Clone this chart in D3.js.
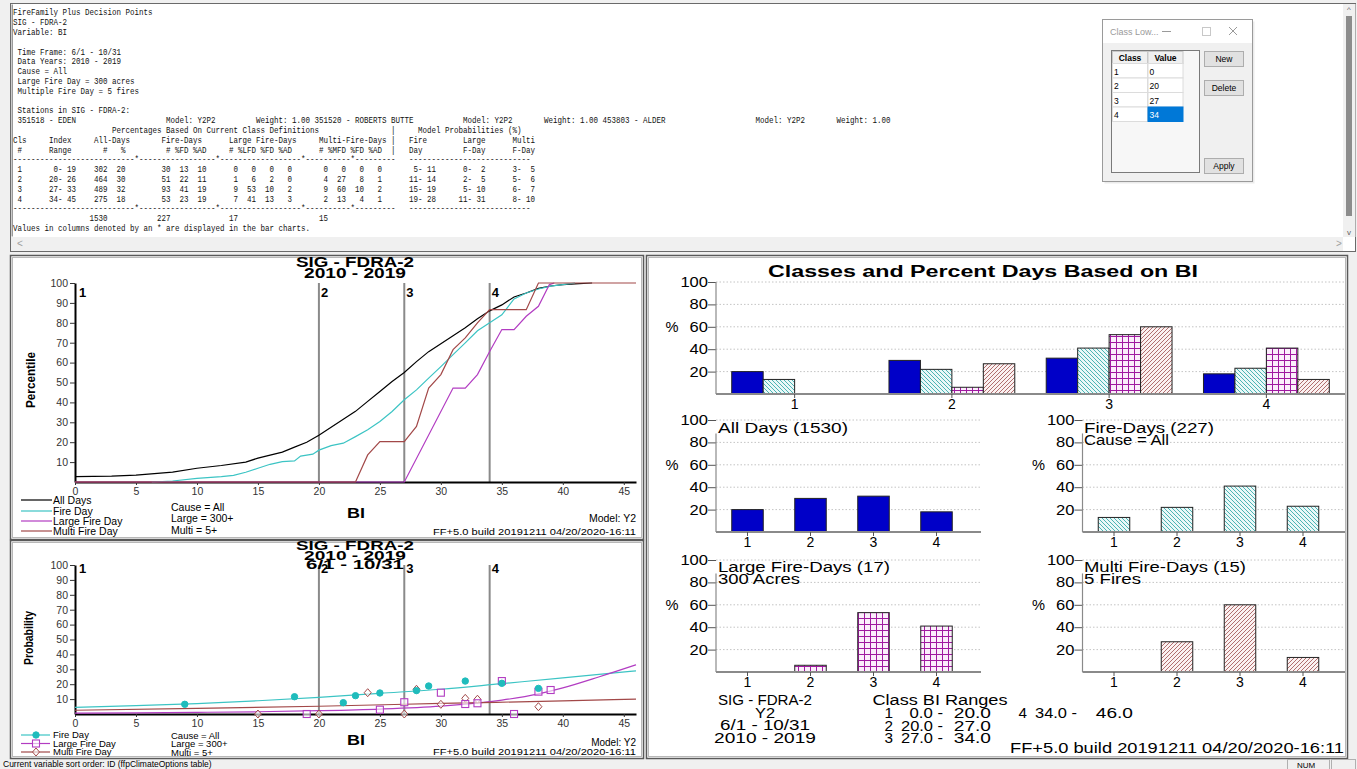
<!DOCTYPE html>
<html><head><meta charset="utf-8">
<script src="https://cdn.jsdelivr.net/npm/d3@7/dist/d3.min.js"></script>
<style>html,body{margin:0;padding:0;background:#f0f0f0;overflow:hidden}svg{display:block}</style>
</head><body>
<svg id="c" width="1357" height="769"></svg>
<script>
// ---------------- DATA ----------------
const classes = ["1","2","3","4"];
const classLow = [0,20,27,34];
const classHigh = [19,26,33,45];
const classBreaks = [20,27,34];
const rangeLo = ["0.0","20.0","27.0","34.0"];
const rangeHi = ["20.0","27.0","34.0","46.0"];
const allDaysN = [302,464,489,275];
const allDaysPct = [20,30,32,18];
const fireDaysN = [30,51,93,53];
const fireDaysPct = [13,22,41,23];
const fireDaysAD = [10,11,19,19];
const largeN = [0,1,9,7];
const largeFirePct = [0,6,53,41];
const largeFD = [0,2,10,13];
const largeAD = [0,0,2,3];
const multiN = [0,4,9,2];
const multiFirePct = [0,27,60,13];
const multiFD = [0,8,10,4];
const multiAD = [0,1,2,1];
const probFireRange = [[5,11],[11,14],[15,19],[19,28]];
const probLargeRange = [[0,2],[2,5],[5,10],[11,31]];
const probMultiRange = [[3,5],[5,6],[6,7],[8,10]];
const totals = [1530,227,17,15];
const dialogValues = [0,20,27,34];
const xTicksBI = [0,5,10,15,20,25,30,35,40,45];
const yTicks10 = [10,20,30,40,50,60,70,80,90,100];
const yTicksBar = [20,40,60,80,100];

// cumulative percentile curves [BI, percentile]
const pctAllDays = [[0,2.7],[3,3],[5,3.5],[8,5],[10,6.9],[12,8.3],[14,10],[15,12],[16,13.5],[17,15],[18,17.5],[19,20],[20,23.5],[21,27.5],[22,31.5],[23,35.5],[24,40.5],[25,45.5],[26,50.5],[27,55],[28,60.5],[29,65.5],[30,69.5],[31,73.5],[32,77.5],[33,82],[34,86],[35,89],[36,93],[37,95],[38,97.3],[39,98.5],[40,99.2],[41,99.6],[42.4,100]];
const pctFireDay = [[6.3,0],[8,0.5],[10,1.8],[12,2.7],[13,3.3],[14,4.9],[15,6.9],[16,8.9],[17,10.2],[18,10.6],[18.5,13],[19.5,14],[20,16],[21,18.3],[22,19.5],[23,22.8],[24,26.2],[25,30.4],[26,35.4],[27,41.3],[28,46.3],[29,52.2],[30,58],[31,64],[32,69.9],[33,76],[34,80],[35,84],[36,92],[37,95],[38,97],[39,98.4],[40,99.2],[41,100]];
const pctLargeDay = [[0,0],[27,0],[31,47.2],[32,47.2],[33,54],[34,65.6],[35,76.6],[36,76.6],[37,83.3],[38,88.3],[38.9,99.2],[39.3,100]];
const pctMultiDay = [[0,0],[23,0],[24,13.6],[25,20.3],[27,20.3],[28,27.9],[29,47.2],[30,54],[31,66.5],[32,72.4],[33,80],[34,86.6],[37,86.6],[38,100],[46,100]];

// model probability curves [BI, probability]
const probFire = [[0,4.5],[5,5.6],[10,7],[15,8.9],[20,11.2],[25,13.9],[30,16.6],[35,20.4],[40,24.2],[46,29]];
const probLarge = [[0,0.6],[5,0.8],[10,1.1],[15,1.5],[20,2.2],[25,3.3],[30,5.3],[35,9.3],[38,13.5],[40,17.5],[43,25],[46,33]];
const probMulti = [[0,2.5],[10,3.8],[20,5.2],[30,7.1],[40,8.8],[46,10]];
// observed points
const obsFire = [[9,6.5],[18,11.6],[22,7.6],[23,12.3],[25,14.1],[28,15.7],[29,18.8],[32,22.1],[35,20.6],[38,17.2]];
const obsLarge = [[19,0],[25,2.9],[27,7.9],[30,14.3],[32,6.7],[33,7.2],[35,22.1],[36,0],[38,15],[39,16.1]];
const obsMulti = [[15,0],[20,0],[24,14.3],[27,0],[28,16.6],[30,6.5],[32,10.5],[33,9.9],[38,4.9]];

// ---------------- SETUP ----------------
const sans = "'Liberation Sans', Arial, sans-serif";
const svg = d3.select("#c");
svg.append("rect").attr("width",1357).attr("height",769).attr("fill","#f0f0f0");

const COL = {black:"#000", teal:"#3cc4c4", purple:"#b23cc2", brown:"#a24848", blue:"#0000c8"};

const defs = svg.append("defs");
function pat(id, bg, draw, size){
  const p = defs.append("pattern").attr("id",id).attr("patternUnits","userSpaceOnUse").attr("width",size).attr("height",size);
  p.append("rect").attr("width",size).attr("height",size).attr("fill",bg);
  draw(p);
}
pat("tealH","#eaf8f8",p=>{p.append("path").attr("d","M-1,-1L5,5M-1,3L1,5M3,-1L5,1").attr("stroke","#3aaeae").attr("stroke-width",0.9);},4);
pat("purpG","#fbeefb",p=>{p.append("path").attr("d","M0,0.5H6M0.5,0V6").attr("stroke","#a01aa0").attr("stroke-width",1);},6);
pat("brownH","#fbf1f1",p=>{p.append("path").attr("d","M-1,5L5,-1M-1,1L1,-1M3,5L5,3").attr("stroke","#a86060").attr("stroke-width",0.9);},4);

// helper: text with optional target width (the original fonts are rendered wide)
function txt(parent, x, y, t, o={}){
  const e = parent.append("text").attr("x",x).attr("y",y).attr("font-family",o.ff||sans).attr("font-size",o.fs||10)
    .attr("font-weight",o.fw||"normal").attr("text-anchor",o.a||"start").attr("fill",o.fill||"#000").text(t);
  if(o.w){ e.attr("textLength",o.w).attr("lengthAdjust","spacingAndGlyphs"); }
  return e;
}

// ---------------- TOP REPORT PANEL ----------------
svg.append("rect").attr("x",10.5).attr("y",3.5).attr("width",1345).attr("height",248).attr("fill","#fff").attr("stroke","#6a6a6a").attr("stroke-width",1);
svg.append("rect").attr("x",11.5).attr("y",4.5).attr("width",1.5).attr("height",232).attr("fill","#9a9a9a");
svg.append("rect").attr("x",1343).attr("y",4).attr("width",12.5).attr("height",233).attr("fill","#f0f0f0");
svg.append("rect").attr("x",1346).attr("y",16).attr("width",6).attr("height",200).attr("fill","#8c8c8c");
txt(svg,1349,12,"^",{fs:8,a:"middle",fill:"#606060"});
txt(svg,1349,235,"v",{fs:8,a:"middle",fill:"#606060"});
svg.append("rect").attr("x",11).attr("y",237).attr("width",1332).attr("height",14).attr("fill","#f0f0f0");
txt(svg,17,247,"<",{fill:"#a0a0a0"});
txt(svg,1336,247,">",{fill:"#a0a0a0"});

const pad = (v,w)=>String(v).padStart(w);
function rowLine(i){
  let s = " " + classes[i];
  s = s.padEnd(7) + pad(classLow[i],3) + "-" + pad(classHigh[i],3);
  s = s.padEnd(18) + pad(allDaysN[i],3) + pad(allDaysPct[i],4);
  s = s.padEnd(33) + pad(fireDaysN[i],2) + pad(fireDaysPct[i],4) + pad(fireDaysAD[i],4);
  s = s.padEnd(48) + pad(largeN[i],2) + pad(largeFirePct[i],4) + pad(largeFD[i],4) + pad(largeAD[i],4);
  s = s.padEnd(68) + pad(multiN[i],2) + pad(multiFirePct[i],4) + pad(multiFD[i],4) + pad(multiAD[i],4);
  s = s.padEnd(87) + pad(probFireRange[i][0],3) + "-" + pad(probFireRange[i][1],3);
  s = s.padEnd(98) + pad(probLargeRange[i][0],3) + "-" + pad(probLargeRange[i][1],3);
  s = s.padEnd(109) + pad(probMultiRange[i][0],3) + "-" + pad(probMultiRange[i][1],3);
  return s;
}
function dashLine(){
  const a = "-".repeat(85).split("");
  [27,45,64,75].forEach(c=>a[c]="*");
  return a.join("").padEnd(88) + "-".repeat(27);
}
const stationLine = " 351518 - EDEN".padEnd(34) + "Model: Y2P2".padEnd(20) + "Weight: 1.00 " +
  "351520 - ROBERTS BUTTE".padEnd(33) + "Model: Y2P2".padEnd(18) + "Weight: 1.00 " +
  "453803 - ALDER".padEnd(34) + "Model: Y2P2".padEnd(18) + "Weight: 1.00";
const reportLines = [
  "FireFamily Plus Decision Points",
  "SIG - FDRA-2",
  "Variable: BI",
  "",
  " Time Frame: 6/1 - 10/31",
  " Data Years: 2010 - 2019",
  " Cause = All",
  " Large Fire Day = 300 acres",
  " Multiple Fire Day = 5 fires",
  "",
  " Stations in SIG - FDRA-2:",
  stationLine,
  "".padEnd(22) + "Percentages Based On Current Class Definitions".padEnd(62) + "|".padEnd(6) + "Model Probabilities (%)",
  "Cls".padEnd(8) + "Index".padEnd(10) + "All-Days".padEnd(15) + "Fire-Days".padEnd(15) + "Large Fire-Days".padEnd(20) + "Multi-Fire-Days".padEnd(16) + "|".padEnd(4) + "Fire".padEnd(12) + "Large".padEnd(11) + "Multi",
  " #".padEnd(8) + "Range".padEnd(12) + "#".padEnd(4) + "%".padEnd(10) + "# %FD %AD".padEnd(14) + "# %LFD %FD %AD".padEnd(20) + "# %MFD %FD %AD".padEnd(16) + "|".padEnd(4) + "Day".padEnd(12) + "F-Day".padEnd(11) + "F-Day",
  dashLine(),
  rowLine(0), rowLine(1), rowLine(2), rowLine(3),
  dashLine(),
  "".padEnd(17) + String(totals[0]).padEnd(15) + String(totals[1]).padEnd(16) + String(totals[2]).padEnd(20) + String(totals[3]),
  "Values in columns denoted by an * are displayed in the bar charts."
];
const mono = svg.append("g").attr("font-family","'Liberation Mono','Courier New',monospace").attr("font-size",9).attr("fill","#111");
reportLines.forEach((d,i)=>{
  const t = d.replace(/\s+$/,"");
  if(!t.length) return;
  mono.append("text").attr("x",13).attr("y",15.3+i*9.8).style("white-space","pre")
    .attr("textLength",t.length*4.5).attr("lengthAdjust","spacingAndGlyphs").text(t);
});

// ---------------- DIALOG ----------------
const dlg = svg.append("g");
dlg.append("rect").attr("x",1104.5).attr("y",21.5).attr("width",150).attr("height",162).attr("fill","#000").attr("opacity",0.08);
dlg.append("rect").attr("x",1102.5).attr("y",19.5).attr("width",150).attr("height",162).attr("fill","#f0f0f0").attr("stroke","#9a9a9a");
dlg.append("rect").attr("x",1103).attr("y",20).attr("width",149).attr("height",23).attr("fill","#fff");
txt(dlg,1110,35,"Class Low...",{fs:9,fill:"#9a9a9a"});
dlg.append("line").attr("x1",1162).attr("x2",1171).attr("y1",31.5).attr("y2",31.5).attr("stroke","#9a9a9a");
dlg.append("rect").attr("x",1202.5).attr("y",27.5).attr("width",8).attr("height",8).attr("fill","none").attr("stroke","#c8c8c8");
dlg.append("path").attr("d","M1229,27L1237,35M1237,27L1229,35").attr("stroke","#9a9a9a");
dlg.append("rect").attr("x",1111.5).attr("y",50.5).attr("width",88).attr("height",122).attr("fill","#f7f7f7").attr("stroke","#7a7a7a");
const cellY = [51,63.5,78,92.5,107,121.5];
dlg.append("rect").attr("x",1112).attr("y",51).attr("width",71).attr("height",12.5).attr("fill","#f0f0f0");
["Class","Value"].forEach((h,j)=>{
  dlg.append("rect").attr("x",1112.5+j*35.5).attr("y",51.5).attr("width",35).attr("height",12).attr("fill","none").attr("stroke","#c8c8c8");
  txt(dlg,1130+j*35.5,60.5,h,{fs:8.5,fw:"bold",a:"middle"});
});
dialogValues.forEach((v,i)=>{
  const y0 = cellY[i+1], h = cellY[i+2]-cellY[i+1];
  dlg.append("rect").attr("x",1112.5).attr("y",y0).attr("width",35).attr("height",h).attr("fill","#fff").attr("stroke","#dcdcdc");
  const sel = i===3;
  dlg.append("rect").attr("x",1148).attr("y",y0).attr("width",35).attr("height",h).attr("fill",sel?"#0078d7":"#fff").attr("stroke",sel?"#0078d7":"#dcdcdc");
  txt(dlg,1114,y0+h-3.5,classes[i],{fs:8.5});
  txt(dlg,1149.5,y0+h-3.5,String(v),{fs:8.5,fill:sel?"#fff":"#000"});
});
[["New",51],["Delete",80],["Apply",158]].forEach(([t,y])=>{
  dlg.append("rect").attr("x",1204.5).attr("y",y+0.5).attr("width",39).attr("height",15).attr("fill","#e1e1e1").attr("stroke","#adadad");
  txt(dlg,1224,y+11,t,{fs:8.5,a:"middle"});
});

// ---------------- PANEL FRAMES ----------------
function frame(x,y,w,h){
  svg.append("rect").attr("x",x+0.5).attr("y",y+0.5).attr("width",w).attr("height",h).attr("fill","#fff").attr("stroke","#5a5a5a").attr("stroke-width",1.5);
  svg.append("rect").attr("x",x+2.5).attr("y",y+2.5).attr("width",w-4).attr("height",h-4).attr("fill","none").attr("stroke","#b8b8b8").attr("stroke-width",1);
}
frame(10,255,633,284);
frame(10,540,633,218);
frame(646,255,701,503);

// ---------------- LEFT PANELS ----------------
const xBI = d3.scaleLinear().domain([0,46]).range([75,636]);
const yPct = d3.scaleLinear().domain([0,100]).range([482,283]);
const yProb = d3.scaleLinear().domain([0,100]).range([714,565]);

function axesLeft(y, yBase){
  const gx = svg.append("g").attr("transform",`translate(0,${yBase})`)
    .call(d3.axisBottom(xBI).tickValues(xTicksBI).tickSize(3).tickSizeOuter(0).tickPadding(3));
  const gy = svg.append("g").attr("transform","translate(75,0)")
    .call(d3.axisLeft(y).tickValues(yTicks10).tickSize(5).tickSizeOuter(0).tickPadding(2));
  [gx,gy].forEach(g=>{
    g.select(".domain").attr("stroke","#000").attr("stroke-width",2);
    g.selectAll(".tick line").attr("stroke","#333");
    g.selectAll(".tick text").attr("font-size",10.5).attr("font-family",sans).attr("fill","#333");
  });
}
function classLines(y, labelY){
  svg.selectAll(null).data(classBreaks).join("line")
    .attr("x1",d=>xBI(d)).attr("x2",d=>xBI(d)).attr("y1",y(100)).attr("y2",y(0))
    .attr("stroke","#8a8a8a").attr("stroke-width",2);
  svg.selectAll(null).data([0].concat(classBreaks)).join("text")
    .attr("x",d=>xBI(d)+(d===0?4:2)).attr("y",labelY).attr("font-family",sans).attr("font-weight","bold").attr("font-size",13).text((d,i)=>classes[i]);
}
function lineOf(y, curve){ return d3.line().x(d=>xBI(d[0])).y(d=>y(d[1])).curve(curve||d3.curveLinear); }

// --- top left: percentile
classLines(yPct, 297);
axesLeft(yPct, 482);
[[pctAllDays,COL.black],[pctFireDay,COL.teal],[pctLargeDay,COL.purple],[pctMultiDay,COL.brown]].forEach(([d,c])=>{
  svg.append("path").datum(d).attr("d",lineOf(yPct)).attr("fill","none").attr("stroke",c).attr("stroke-width",1.2);
});
txt(svg,355,267,"SIG - FDRA-2",{fs:14,fw:"bold",a:"middle",w:118});
txt(svg,355,278,"2010 - 2019",{fs:14,fw:"bold",a:"middle",w:102});
svg.append("text").attr("transform","translate(35,380) rotate(-90)").attr("text-anchor","middle").attr("font-family",sans).attr("font-weight","bold").attr("font-size",13).attr("textLength",56).attr("lengthAdjust","spacingAndGlyphs").text("Percentile");
txt(svg,356,518,"BI",{fs:15,fw:"bold",a:"middle",w:18});
const legTop = [["All Days",COL.black],["Fire Day",COL.teal],["Large Fire Day",COL.purple],["Multi Fire Day",COL.brown]];
legTop.forEach(([t,c],i)=>{
  const y = [500,511,521,531][i];
  svg.append("line").attr("x1",21).attr("x2",52).attr("y1",y).attr("y2",y).attr("stroke",c).attr("stroke-width",1.2);
  txt(svg,53,y+3.5,t,{fs:10.5});
});
["Cause = All","Large = 300+","Multi = 5+"].forEach((t,i)=>txt(svg,171,[511,522,534][i],t,{fs:10.5}));
txt(svg,636,522,"Model: Y2",{fs:10.5,a:"end"});
txt(svg,636,535,"FF+5.0 build 20191211 04/20/2020-16:11",{fs:9.5,a:"end",w:203});

// --- bottom left: probability
classLines(yProb, 573);
axesLeft(yProb, 714);
[[probFire,COL.teal],[probLarge,COL.purple],[probMulti,COL.brown]].forEach(([d,c])=>{
  svg.append("path").datum(d).attr("d",lineOf(yProb,d3.curveMonotoneX)).attr("fill","none").attr("stroke",c).attr("stroke-width",1.2);
});
function marker(g, type, x, y, c){
  if(type==="circle") g.append("circle").attr("cx",x).attr("cy",y).attr("r",3.2).attr("fill","#1fbcbc").attr("stroke","#1fbcbc");
  else if(type==="square") g.append("rect").attr("x",x-3.5).attr("y",y-3.5).attr("width",7).attr("height",7).attr("fill","#fff").attr("fill-opacity",0.6).attr("stroke",c).attr("stroke-width",1.1);
  else g.append("path").attr("d",`M${x},${y-4}L${x+3.5},${y}L${x},${y+4}L${x-3.5},${y}Z`).attr("fill","#fff").attr("fill-opacity",0.6).attr("stroke",c).attr("stroke-width",1);
}
const mg = svg.append("g");
obsMulti.forEach(d=>marker(mg,"diamond",xBI(d[0]),yProb(d[1]),COL.brown));
obsLarge.forEach(d=>marker(mg,"square",xBI(d[0]),yProb(d[1]),COL.purple));
obsFire.forEach(d=>marker(mg,"circle",xBI(d[0]),yProb(d[1]),COL.teal));
[["SIG - FDRA-2",550,118],["2010 - 2019",560,102],["6/1 - 10/31",569,98]].forEach(([t,y,L])=>{
  txt(svg,355,y,t,{fs:13,fw:"bold",a:"middle",w:L});
});
svg.append("text").attr("transform","translate(33,638) rotate(-90)").attr("text-anchor","middle").attr("font-family",sans).attr("font-weight","bold").attr("font-size",12).attr("textLength",54).attr("lengthAdjust","spacingAndGlyphs").text("Probability");
txt(svg,356,745,"BI",{fs:15,fw:"bold",a:"middle",w:18});
[["Fire Day",COL.teal,"circle"],["Large Fire Day",COL.purple,"square"],["Multi Fire Day",COL.brown,"diamond"]].forEach(([t,c,m],i)=>{
  const y = [735,743.5,752][i];
  svg.append("line").attr("x1",21).attr("x2",50).attr("y1",y).attr("y2",y).attr("stroke",c).attr("stroke-width",1.2);
  marker(svg,m,36,y,c);
  txt(svg,53,y+3.3,t,{fs:9.5});
});
["Cause = All","Large = 300+","Multi = 5+"].forEach((t,i)=>txt(svg,171,[738.5,747,755.5][i],t,{fs:9.5}));
txt(svg,636,746,"Model: Y2",{fs:10,a:"end"});
txt(svg,636,755,"FF+5.0 build 20191211 04/20/2020-16:11",{fs:9.5,a:"end",w:203});

// ---------------- RIGHT PANEL ----------------
const FS = 14;
function barPanel(o){
  const x = d3.scaleBand().domain(classes).range([o.x0,o.x1]).paddingInner(o.pi).paddingOuter(o.po);
  const y = d3.scaleLinear().domain([0,100]).range([o.yb,o.yt]);
  const g = svg.append("g");
  yTicksBar.forEach(t=>{
    g.append("line").attr("x1",o.x0).attr("x2",o.xEnd).attr("y1",y(t)).attr("y2",y(t)).attr("stroke","#c4c4c4").attr("stroke-dasharray","1.5,2");
  });
  const ga = g.append("g").attr("transform",`translate(${o.x0},0)`).call(d3.axisLeft(y).tickValues(yTicksBar).tickSize(8).tickPadding(0));
  ga.select(".domain").remove();
  ga.selectAll(".tick line").attr("stroke","#555");
  ga.selectAll(".tick text").attr("font-size",FS).attr("font-family",sans).attr("fill","#000")
    .attr("textLength",d=>String(d).length*9.2).attr("lengthAdjust","spacingAndGlyphs");
  g.append("line").attr("x1",o.x0).attr("x2",o.x0).attr("y1",y(o.axisTop)).attr("y2",y(0)).attr("stroke","#8a8a8a").attr("stroke-width",1.2);
  txt(g,o.x0-44,y(60)+5,"%",{fs:FS,a:"middle",w:13});
  const inner = d3.scaleBand().domain(d3.range(o.series.length)).range([0,x.bandwidth()]);
  o.series.forEach((s,si)=>{
    g.selectAll(null).data(s.vals.map((v,i)=>({c:classes[i],v})).filter(d=>d.v>0)).join("rect")
      .attr("x",d=>x(d.c)+inner(si)).attr("width",inner.bandwidth())
      .attr("y",d=>y(d.v)).attr("height",d=>y(0)-y(d.v))
      .attr("fill",s.fill).attr("stroke","#222").attr("stroke-width",1);
  });
  g.append("line").attr("x1",o.x0).attr("x2",o.xEnd).attr("y1",y(0)).attr("y2",y(0)).attr("stroke","#8a8a8a").attr("stroke-width",2);
  classes.forEach(c=>{
    const cx = x(c)+x.bandwidth()/2;
    g.append("line").attr("x1",cx).attr("x2",cx).attr("y1",y(0)).attr("y2",y(0)+4).attr("stroke","#555");
    txt(g,cx,y(0)+15,c,{fs:FS,a:"middle"});
  });
  return g;
}
const sBlue = {fill:COL.blue}, sTeal = {fill:"url(#tealH)"}, sPurp = {fill:"url(#purpG)"}, sBrown = {fill:"url(#brownH)"};
barPanel({x0:716,x1:1345,xEnd:1345,pi:0.2,po:0.1,yb:394,yt:282,axisTop:100,
  series:[{...sBlue,vals:allDaysPct},{...sTeal,vals:fireDaysPct},{...sPurp,vals:largeFirePct},{...sBrown,vals:multiFirePct}]});
barPanel({x0:716,x1:968,xEnd:981,pi:0.5,po:0.25,yb:532,yt:420,axisTop:88,series:[{...sBlue,vals:allDaysPct}]});
barPanel({x0:1082.5,x1:1334.5,xEnd:1345,pi:0.5,po:0.25,yb:532,yt:420,axisTop:88,series:[{...sTeal,vals:fireDaysPct}]});
barPanel({x0:716,x1:968,xEnd:981,pi:0.5,po:0.25,yb:672,yt:560,axisTop:88,series:[{...sPurp,vals:largeFirePct}]});
barPanel({x0:1082.5,x1:1334.5,xEnd:1345,pi:0.5,po:0.25,yb:672,yt:560,axisTop:88,series:[{...sBrown,vals:multiFirePct}]});

txt(svg,983,277,"Classes and Percent Days Based on BI",{fs:16,fw:"bold",a:"middle",w:430});
txt(svg,718,433,`All Days (${totals[0]})`,{fs:FS,w:130});
txt(svg,1084,433,`Fire-Days (${totals[1]})`,{fs:FS,w:130});
txt(svg,1084,444.5,"Cause = All",{fs:FS,w:85});
txt(svg,718,572,`Large Fire-Days (${totals[2]})`,{fs:FS,w:172});
txt(svg,718,583.5,"300 Acres",{fs:FS,w:82});
txt(svg,1084,572,`Multi Fire-Days (${totals[3]})`,{fs:FS,w:162});
txt(svg,1084,583.5,"5 Fires",{fs:FS,w:57});
[["SIG - FDRA-2",94],["Y2",20],["6/1 - 10/31",90],["2010 - 2019",102]].forEach(([t,w],i)=>txt(svg,765,705+i*12.6,t,{fs:FS,a:"middle",w}));
txt(svg,940,705,"Class BI Ranges",{fs:FS,a:"middle",w:135});
classes.forEach((c,i)=>{
  const col = i<3 ? 0 : 1, row = i<3 ? i : 0;
  const bx = col ? 1027 : 893, y = 718+row*12.6;
  txt(svg,bx,y,c,{fs:FS,a:"end",w:8.5});
  txt(svg,bx+50,y,rangeLo[i]+" -",{fs:FS,a:"end",w:rangeLo[i].length*8.5+8});
  txt(svg,bx+98+(col?8:0),y,rangeHi[i],{fs:FS,a:"end",w:rangeHi[i].length*9.3});
});
txt(svg,1344,753,"FF+5.0 build 20191211 04/20/2020-16:11",{fs:FS,a:"end",w:334});

// ---------------- STATUS BAR ----------------
txt(svg,3,767,"Current variable sort order: ID (ffpClimateOptions table)",{fs:8.5});
svg.append("rect").attr("x",1287.5).attr("y",759.5).attr("width",42).attr("height",10).attr("fill","#f0f0f0").attr("stroke","#b0b0b0");
txt(svg,1297,767.5,"NUM",{fs:8});
svg.append("rect").attr("x",1331.5).attr("y",759.5).attr("width",24).attr("height",10).attr("fill","#f0f0f0").attr("stroke","#b0b0b0");
</script>
</body></html>
